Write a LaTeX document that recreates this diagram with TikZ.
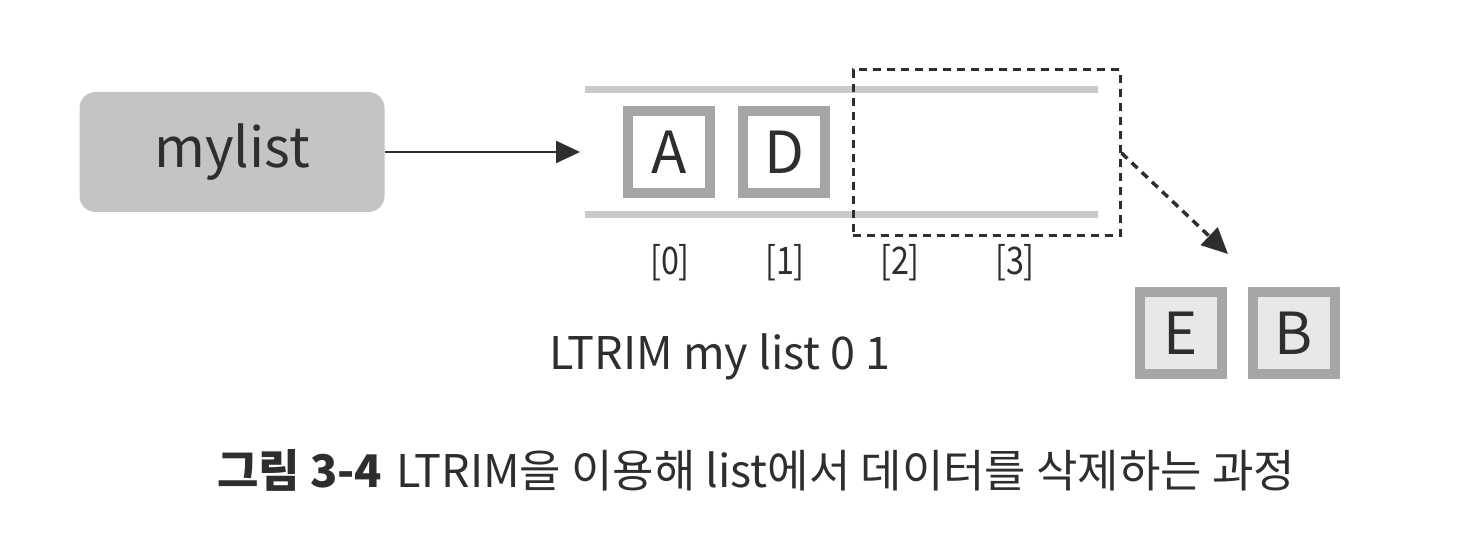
\documentclass[tikz,border=0pt]{standalone}
\usepackage{fontspec}
\setmainfont{Noto Sans CJK KR}
\usetikzlibrary{arrows.meta}
\definecolor{txt}{HTML}{2E2E2E}
\definecolor{boxgray}{HTML}{C4C4C4}
\definecolor{bordergray}{HTML}{A6A6A6}
\definecolor{bargray}{HTML}{CBCBCB}
\definecolor{lightfill}{HTML}{E8E8E8}
\tikzset{
  x=1pt, y=-1pt,
  every node/.style={text=txt, inner sep=0pt},
  cell/.style={draw=bordergray, line width=10pt, minimum size=82pt, fill=white,
    font=\fontsize{58}{60}\selectfont},
  outcell/.style={cell, fill=lightfill},
  idx/.style={font=\fontsize{38}{40}\selectfont\addfontfeatures{FakeStretch=0.85}},
  bar/.style={draw=bargray, line width=7pt},
  ptr/.style={draw=txt, line width=2.4pt, -{Triangle[length=24pt,width=22pt]}},
  dptr/.style={draw=txt, line width=3.5pt, dash pattern=on 8pt off 6pt, -{Triangle[length=26pt,width=24pt]}},
  region/.style={draw=txt, line width=3pt, dash pattern=on 8pt off 6pt},
}
\begin{document}
\begin{tikzpicture}
\useasboundingbox (0,0) rectangle (1462,548);
% mylist box
\node[fill=boxgray, rounded corners=16pt, minimum width=305pt, minimum height=120pt,
  font=\fontsize{55}{60}\selectfont] (mylist) at (232,152) {mylist};
% bars
\coordinate (t1) at (585,90); \coordinate (t2) at (1098,90);
\coordinate (b1) at (585,215); \coordinate (b2) at (1098,215);
\draw[bar] (t1) -- (t2);
\draw[bar] (b1) -- (b2);
% cells
\node[cell] (A) at (669,152) {A};
\node[cell] (D) at (784,152) {D};
\coordinate (listin) at (580,152);
\draw[ptr] (mylist.east) -- (listin);
% indices
\node[idx] (i0) at (670,263) {[0]};
\node[idx] (i1) at (785,263) {[1]};
\node[idx] (i2) at (900,263) {[2]};
\node[idx] (i3) at (1015,263) {[3]};
% dashed region
\node[region, minimum width=267pt, minimum height=166pt] (reg) at (986.5,153) {};
% removed cells
\node[outcell] (E) at (1181,333) {E};
\node[outcell] (B) at (1294,333) {B};
\coordinate (dtip) at (1228,254);
\draw[dptr] (reg.east) -- (dtip);
% command
\node[font=\fontsize{45}{48}\selectfont] (cmd) at (720,357) {LTRIM my list 0 1};
% caption
\node[font=\fontsize{45}{48}\selectfont] (cap) at (756,470)
  {{\bfseries 그림 3-4}\hspace{14pt}LTRIM을 이용해 list에서 데이터를 삭제하는 과정};
\end{tikzpicture}
\end{document}
